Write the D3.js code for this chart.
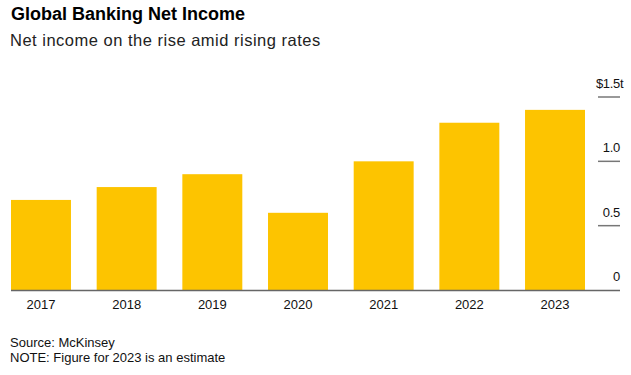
<!DOCTYPE html>
<html><head><meta charset="utf-8">
<script src="https://cdn.jsdelivr.net/npm/d3@7"></script>
<style>
body{margin:0;background:#fff;}
svg{display:block;font-family:"Liberation Sans",Arial,sans-serif;}
</style></head>
<body>
<svg id="chart" width="631" height="375"></svg>
<script>
const years = ["2017","2018","2019","2020","2021","2022","2023"];
const netIncome = [0.70, 0.80, 0.90, 0.60, 1.00, 1.30, 1.40];
const tickValues = [0, 0.5, 1.0, 1.5];
const tickLabels = ["0", "0.5", "1.0", "$1.5"];

const svg = d3.select("#chart");
const x = d3.scaleBand().domain(years).range([11, 585]).paddingInner(0.3).paddingOuter(0);
const y = d3.scaleLinear().domain([0, 1.5]).range([290, 97]);

svg.append("text").attr("x", 11).attr("y", 20)
  .attr("font-size", 18).attr("font-weight", "bold").attr("fill", "#000")
  .text("Global Banking Net Income");
svg.append("text").attr("x", 10).attr("y", 46)
  .attr("font-size", 16.5).attr("fill", "#222").attr("letter-spacing", 0.5)
  .text("Net income on the rise amid rising rates");

svg.append("g").selectAll("rect").data(years).join("rect")
  .attr("x", d => x(d)).attr("width", x.bandwidth())
  .attr("y", (d,i) => y(netIncome[i]))
  .attr("height", (d,i) => y(0) - y(netIncome[i]))
  .attr("fill", "#FDC400");

// baseline
svg.append("line").attr("x1", 11).attr("x2", 620).attr("y1", y(0)+0.5).attr("y2", y(0)+0.5)
  .attr("stroke", "#666").attr("stroke-width", 1.5);

// x axis labels
const xAxis = d3.axisBottom(x).tickSize(0).tickPadding(0);
const gx = svg.append("g").attr("transform", `translate(0,${y(0)})`).call(xAxis);
gx.select(".domain").remove();
gx.selectAll("text").attr("font-size", 13).attr("fill", "#111")
  .attr("font-family", "Liberation Sans, Arial, sans-serif").attr("dy", "1.45em");

// y ticks
const gy = svg.append("g");
tickValues.forEach((v, i) => {
  if (v !== 0) {
    gy.append("line").attr("x1", 598).attr("x2", 620).attr("y1", y(v)).attr("y2", y(v))
      .attr("stroke", "#777").attr("stroke-width", 1.5);
  }
  gy.append("text").attr("x", 620).attr("y", y(v) - 9)
    .attr("text-anchor", "end").attr("font-size", 13).attr("fill", "#111")
    .attr("letter-spacing", -0.3)
    .text(tickLabels[i]);
});
gy.append("text").attr("x", 620).attr("y", y(1.5) - 9)
  .attr("font-size", 13).attr("fill", "#111").text("t");

svg.append("text").attr("x", 10).attr("y", 347).attr("font-size", 13).attr("fill", "#111")
  .text("Source: McKinsey");
svg.append("text").attr("x", 10).attr("y", 362).attr("font-size", 13).attr("fill", "#111")
  .text("NOTE: Figure for 2023 is an estimate");
</script>
</body></html>
